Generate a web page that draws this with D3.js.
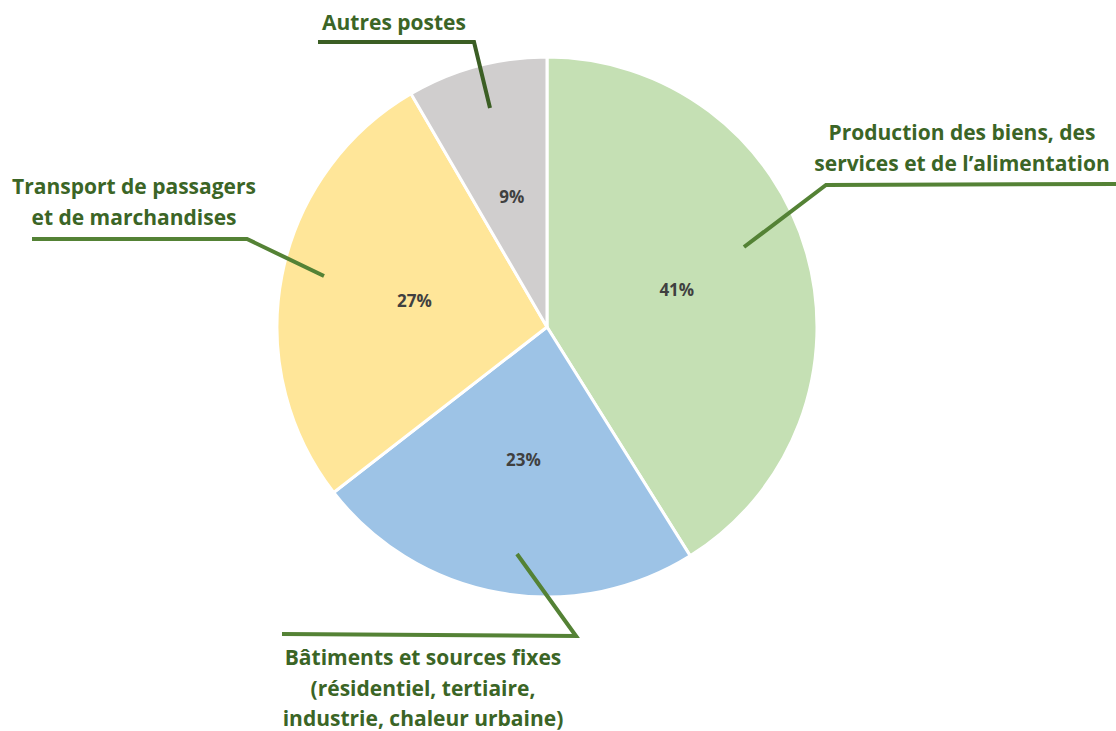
<script src="https://cdnjs.cloudflare.com/ajax/libs/d3/7.8.5/d3.min.js"></script>

<style type="text/css">
  body {
    margin: 0;
    background: #fff;
    font-family: "Open Sans", sans-serif;
  }

  .pct {
    fill: #404040;
    font-size: 17px;
    font-weight: bold;
  }

  .cat-label {
    fill: #3b6526;
    font-size: 21px;
    font-weight: bold;
  }

  .leader {
    fill: none;
    stroke-width: 4px;
  }
</style>

<body>
</body>

<script>

// slices, clockwise from 12 o'clock
var categories = ["Production", "Bâtiments", "Transport", "Autres"];
var values = [41.1, 23.4, 27.1, 8.4];
var pctLabels = ["41%", "23%", "27%", "9%"];
var colors = ["#c5e0b4", "#9dc3e6", "#ffe699", "#d0cece"];

var labelLines = [
  ["Production des biens, des", "services et de l’alimentation"],
  ["Bâtiments et sources fixes", "(résidentiel, tertiaire,", "industrie, chaleur urbaine)"],
  ["Transport de passagers", "et de marchandises"],
  ["Autres postes"]
];

var width = 1116, height = 731;
var cx = 547, cy = 327, radius = 270;

var svg = d3.select("body").append("svg")
    .attr("width", width)
    .attr("height", height);

var pie = d3.pie().sort(null).value(function(d) { return d; });
var arcs = pie(values);

var arc = d3.arc().innerRadius(0).outerRadius(radius);
var labelArc = d3.arc().innerRadius(radius * 0.5).outerRadius(radius * 0.5);

var g = svg.append("g")
    .attr("transform", "translate(" + cx + "," + cy + ")");

g.selectAll("path.slice")
    .data(arcs)
  .enter().append("path")
    .attr("class", "slice")
    .attr("d", arc)
    .attr("fill", function(d, i) { return colors[i]; })
    .attr("stroke", "#fff")
    .attr("stroke-width", 3)
    .attr("stroke-linejoin", "round");

g.selectAll("text.pct")
    .data(arcs)
  .enter().append("text")
    .attr("class", "pct")
    .attr("text-anchor", "middle")
    .attr("dy", "0.35em")
    .attr("transform", function(d) { return "translate(" + labelArc.centroid(d) + ")"; })
    .text(function(d, i) { return pctLabels[i]; });

// leader lines + category labels, placed relative to the pie
// inner: point inside slice, elbow: bend, end: end of horizontal rule
var callouts = [
  {inner: [197, -80], elbow: [279, -142], end: [569, -143], text: [415, -187], color: "#548235"},
  {inner: [-30, 227], elbow: [29, 309], end: [-265, 307], text: [-124, 338], color: "#548235"},
  {inner: [-223, -51], elbow: [-300, -88], end: [-515, -88], text: [-413, -133], color: "#548235"},
  {inner: [-57, -219], elbow: [-73, -285], end: [-229, -285], text: [-153, -297], color: "#3b5e24"}
];

callouts.forEach(function(c, i) {
  g.append("path")
      .attr("class", "leader")
      .style("stroke", c.color)
      .attr("d", d3.line()([c.inner, c.elbow, c.end]));

  var t = g.append("text")
      .attr("class", "cat-label")
      .attr("text-anchor", "middle")
      .attr("x", c.text[0])
      .attr("y", c.text[1]);

  labelLines[i].forEach(function(line, j) {
    t.append("tspan")
        .attr("x", c.text[0])
        .attr("dy", j === 0 ? 0 : 30.5)
        .text(line);
  });
});

</script>
